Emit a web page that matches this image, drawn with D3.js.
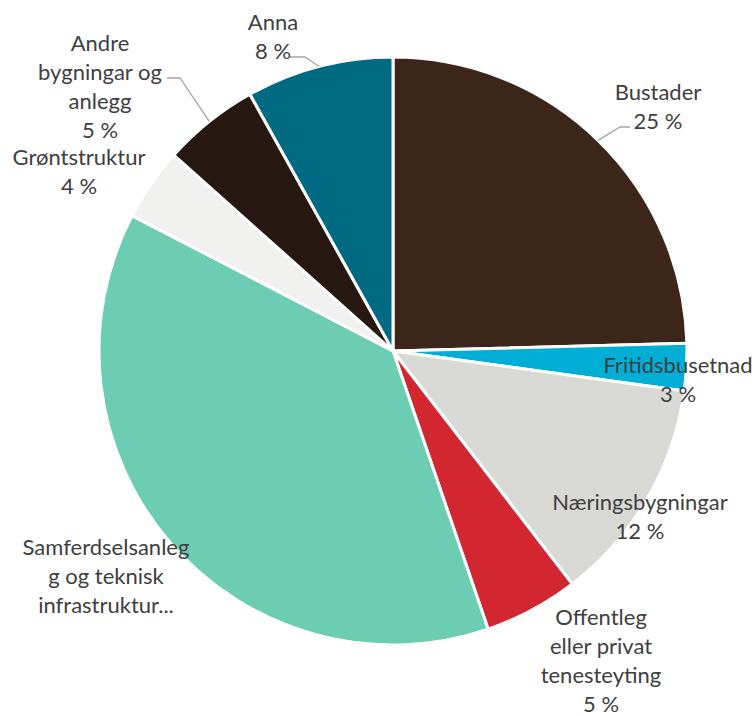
<!DOCTYPE html>
<html>
<head>
<meta charset="utf-8">
<script src="https://cdn.jsdelivr.net/npm/d3@7"></script>
<style>
  body { margin: 0; background: #fff; }
  text { font-family: Lato, "Open Sans", sans-serif; fill: #404040; }
</style>
</head>
<body>
<svg id="chart"></svg>
<script>
/* Data: share of area per land-use category (percent), clockwise from 12 o'clock */
const categories = [
  "Bustader", "Fritidsbusetnad", "Næringsbygningar", "Offentleg eller privat tenesteyting",
  "Samferdselsanlegg og teknisk infrastruktur", "Grøntstruktur", "Andre bygningar og anlegg", "Anna"
];
const shares = [24.6, 2.6, 12.4, 5.2, 37.9, 4.0, 5.3, 8.1];
const colors = ["#3b2619", "#00aed6", "#d9d9d5", "#d22630", "#6dcdb2", "#f1f1ef", "#261810", "#006a82"];

/* Label text lines as shown in the chart (percent appended where shown) */
const labelLines = [
  ["Bustader"],
  ["Fritidsbusetnad"],
  ["Næringsbygningar"],
  ["Offentleg", "eller privat", "tenesteyting"],
  ["Samferdselsanleg", "g og teknisk", "infrastruktur..."],
  ["Grøntstruktur"],
  ["Andre", "bygningar og", "anlegg"],
  ["Anna"]
];
const showPct = [true, true, true, true, false, true, true, true];

/* Label layout: centre x and first line centre y */
const labelPos = [
  { x: 658, y: 92 }, { x: 678, y: 365 }, { x: 640, y: 502 }, { x: 601, y: 617 },
  { x: 106, y: 547 }, { x: 79, y: 157 }, { x: 100, y: 43 }, { x: 273, y: 22 }
];
/* Leader lines: horizontal stub [x0, x1, y], then to the slice edge */
const leaders = [
  [630, 620, 127], null, null, null, null, null, [167, 180, 78], [290, 305, 57]
];

const width = 755, height = 716;
const cx = 393, cy = 351, radius = 294;
const lineH = 29;

const svg = d3.select("#chart")
    .attr("width", width)
    .attr("height", height);

const data = categories.map((c, i) => ({ name: c, value: shares[i], i }));
const total = d3.sum(shares);

const pie = d3.pie()
    .value(d => d.value)
    .sort(null);
const arcs = pie(data);

const arc = d3.arc().innerRadius(0).outerRadius(radius);
const edgeArc = d3.arc().innerRadius(radius).outerRadius(radius);

const g = svg.append("g")
    .attr("transform", `translate(${cx},${cy})`);

g.selectAll(".slice")
    .data(arcs)
    .join("path")
      .attr("class", "slice")
      .attr("d", arc)
      .attr("fill", d => colors[d.data.i])
      .attr("stroke", "#fff")
      .attr("stroke-width", 3)
      .attr("stroke-linejoin", "round");

/* Leader lines */
arcs.forEach(d => {
    const l = leaders[d.data.i];
    if (!l) return;
    const p = edgeArc.centroid(d);
    svg.append("polyline")
        .attr("points", `${l[0]},${l[2]} ${l[1]},${l[2]} ${p[0] + cx},${p[1] + cy}`)
        .attr("fill", "none")
        .attr("stroke", "#a6a6a6")
        .attr("stroke-width", 1.3);
});

/* Labels */
arcs.forEach(d => {
    const i = d.data.i;
    const lines = labelLines[i].slice();
    if (showPct[i]) lines.push(Math.round(d.value / total * 100) + " %");
    const t = svg.append("text")
        .attr("text-anchor", "middle")
        .style("font-size", "22px");
    lines.forEach((s, k) => {
        t.append("tspan")
            .attr("x", labelPos[i].x)
            .attr("y", labelPos[i].y + k * lineH)
            .attr("dy", "0.35em")
            .text(s);
    });
});
</script>
</body>
</html>
